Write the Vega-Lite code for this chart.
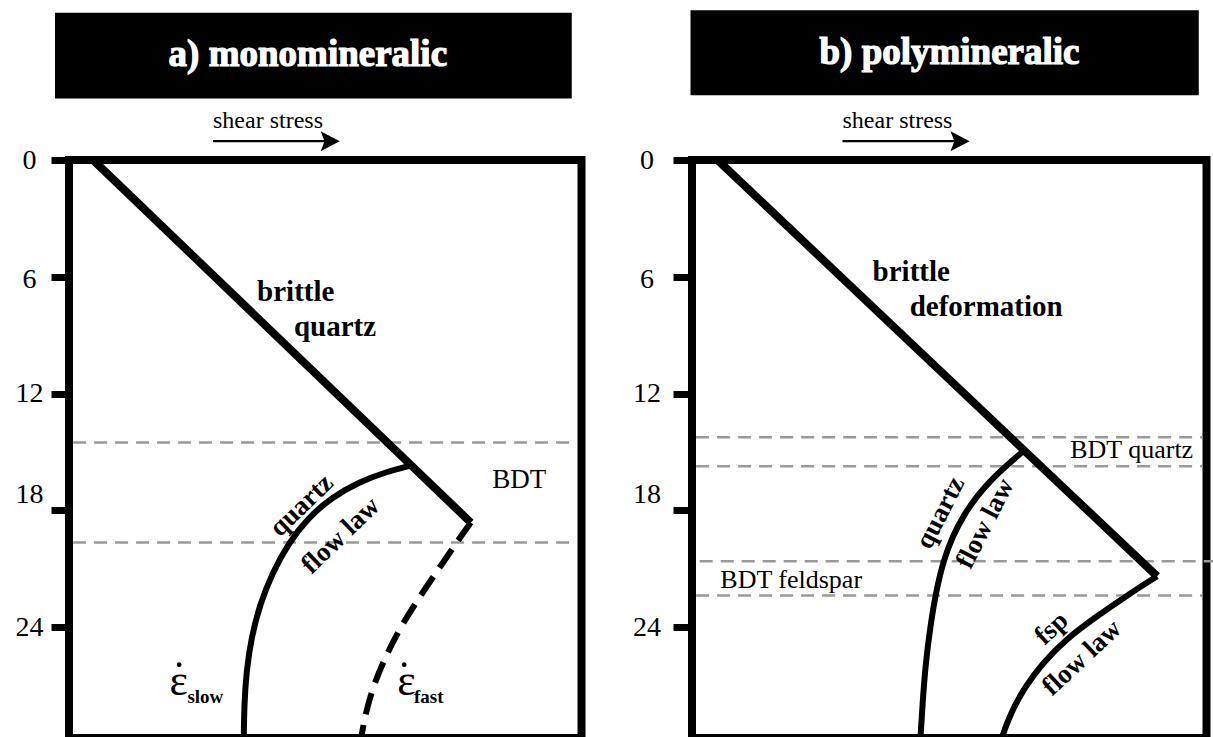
{
  "$schema": "https://vega.github.io/schema/vega-lite/v6.json",
  "background": "white",
  "padding": {"left": 11, "top": 6, "right": 0, "bottom": 0},
  "autosize": {"type": "pad"},
  "bounds": "flush",
  "spacing": 110,
  "config": {"view": {"stroke": "black", "strokeWidth": 8}},
  "datasets": {
    "pts": [
      {"p":"a","k":"box","x":-2.73,"x2":98.1,"d":-7.56,"d2":-3.16},
      {"p":"b","k":"box","x":-0.29,"x2":98.5,"d":-7.70,"d2":-3.33},
      {"p":"a","k":"title","x":46.6,"d":-4.82,"t":"a) monomineralic"},
      {"p":"b","k":"title","x":50.05,"d":-4.95,"t":"b) polymineralic"},
      {"p":"a","k":"shear","x":28.1,"d":-1.62,"t":"shear stress"},
      {"p":"b","k":"shear","x":29.25,"d":-1.62,"t":"shear stress"},
      {"p":"a","k":"arrow","x":28.1,"x2":50.2,"d":-0.966},
      {"p":"b","k":"arrow","x":29.25,"x2":51.3,"d":-0.966},
      {"p":"a","k":"head","x":50.97,"d":-0.966},
      {"p":"b","k":"head","x":52.1,"d":-0.966},
      {"p":"a","k":"bdt","x":0.8,"x2":99.2,"d":14.52},
      {"p":"a","k":"bdt","x":0.8,"x2":99.2,"d":19.66},
      {"p":"b","k":"bdt","x":0.8,"x2":99.2,"d":14.24},
      {"p":"b","k":"bdt","x":0.8,"x2":99.2,"d":15.73},
      {"p":"b","k":"bdt","x":1.5,"x2":102.2,"d":20.62},
      {"p":"b","k":"bdt","x":0.8,"x2":99.2,"d":22.38},
      {"p":"a","k":"curve","s":"brittle","o":1,"x":4.7,"d":0},
      {"p":"a","k":"curve","s":"brittle","o":2,"x":78.4,"d":18.63},
      {"p":"a","k":"curve","s":"slow","o":1,"x":66.4,"d":15.72},
      {"p":"a","k":"curve","s":"slow","o":2,"x":62.0,"d":16.02},
      {"p":"a","k":"curve","s":"slow","o":3,"x":56.5,"d":16.55},
      {"p":"a","k":"curve","s":"slow","o":4,"x":51.2,"d":17.35},
      {"p":"a","k":"curve","s":"slow","o":5,"x":46.6,"d":18.4},
      {"p":"a","k":"curve","s":"slow","o":6,"x":42.8,"d":19.7},
      {"p":"a","k":"curve","s":"slow","o":7,"x":39.7,"d":21.2},
      {"p":"a","k":"curve","s":"slow","o":8,"x":37.3,"d":22.8},
      {"p":"a","k":"curve","s":"slow","o":9,"x":35.6,"d":24.5},
      {"p":"a","k":"curve","s":"slow","o":10,"x":34.6,"d":26.3},
      {"p":"a","k":"curve","s":"slow","o":11,"x":34.2,"d":28.0},
      {"p":"a","k":"curve","s":"slow","o":12,"x":34.1,"d":29.7},
      {"p":"a","k":"curve","s":"fast","o":1,"x":78.4,"d":18.63},
      {"p":"a","k":"curve","s":"fast","o":2,"x":75.9,"d":19.55},
      {"p":"a","k":"curve","s":"fast","o":3,"x":72.3,"d":20.95},
      {"p":"a","k":"curve","s":"fast","o":4,"x":68.4,"d":22.45},
      {"p":"a","k":"curve","s":"fast","o":5,"x":64.8,"d":23.95},
      {"p":"a","k":"curve","s":"fast","o":6,"x":61.8,"d":25.5},
      {"p":"a","k":"curve","s":"fast","o":7,"x":59.4,"d":27.0},
      {"p":"a","k":"curve","s":"fast","o":8,"x":57.9,"d":28.4},
      {"p":"a","k":"curve","s":"fast","o":9,"x":57.0,"d":29.7},
      {"p":"b","k":"curve","s":"brittle","o":1,"x":4.96,"d":0},
      {"p":"b","k":"curve","s":"brittle","o":2,"x":90.4,"d":21.39},
      {"p":"b","k":"curve","s":"quartz","o":1,"x":64.24,"d":15.0},
      {"p":"b","k":"curve","s":"quartz","o":2,"x":61.32,"d":15.65},
      {"p":"b","k":"curve","s":"quartz","o":3,"x":58.21,"d":16.42},
      {"p":"b","k":"curve","s":"quartz","o":4,"x":55.3,"d":17.29},
      {"p":"b","k":"curve","s":"quartz","o":5,"x":52.77,"d":18.27},
      {"p":"b","k":"curve","s":"quartz","o":6,"x":50.63,"d":19.35},
      {"p":"b","k":"curve","s":"quartz","o":7,"x":48.88,"d":20.58},
      {"p":"b","k":"curve","s":"quartz","o":8,"x":47.52,"d":22.07},
      {"p":"b","k":"curve","s":"quartz","o":9,"x":46.36,"d":23.87},
      {"p":"b","k":"curve","s":"quartz","o":10,"x":45.38,"d":25.92},
      {"p":"b","k":"curve","s":"quartz","o":11,"x":44.8,"d":27.98},
      {"p":"b","k":"curve","s":"quartz","o":12,"x":44.41,"d":29.7},
      {"p":"b","k":"curve","s":"fsp","o":1,"x":90.4,"d":21.39},
      {"p":"b","k":"curve","s":"fsp","o":2,"x":84.8,"d":22.33},
      {"p":"b","k":"curve","s":"fsp","o":3,"x":78.2,"d":23.53},
      {"p":"b","k":"curve","s":"fsp","o":4,"x":72.8,"d":24.6},
      {"p":"b","k":"curve","s":"fsp","o":5,"x":68.3,"d":25.8},
      {"p":"b","k":"curve","s":"fsp","o":6,"x":64.6,"d":27.1},
      {"p":"b","k":"curve","s":"fsp","o":7,"x":61.9,"d":28.45},
      {"p":"b","k":"curve","s":"fsp","o":8,"x":60.2,"d":29.7},
      {"p":"a","k":"bold","x":36.7,"d":7.26,"t":"brittle"},
      {"p":"a","k":"bold","x":43.9,"d":9.05,"t":"quartz"},
      {"p":"b","k":"bold","x":35.1,"d":6.23,"t":"brittle"},
      {"p":"b","k":"bold","x":42.3,"d":8.03,"t":"deformation"},
      {"p":"a","k":"bdtlab","x":82.6,"d":16.84,"t":"BDT"},
      {"p":"b","k":"bdtlab","x":73.5,"d":15.3,"t":"BDT quartz"},
      {"p":"b","k":"bdtlab","x":5.5,"d":21.98,"t":"BDT feldspar"},
      {"p":"a","k":"rot1","x":45.4,"d":17.75,"t":"quartz"},
      {"p":"a","k":"rot1","x":53.0,"d":19.3,"t":"flow law"},
      {"p":"b","k":"rot1","x":69.9,"d":24.07,"t":"fsp"},
      {"p":"b","k":"rot1","x":75.8,"d":25.58,"t":"flow law"},
      {"p":"b","k":"rot2","x":48.3,"d":18.13,"t":"quartz"},
      {"p":"b","k":"rot2","x":57.0,"d":18.68,"t":"flow law"},
      {"p":"a","k":"eps","x":19.6,"d":27.47,"t":"ε"},
      {"p":"a","k":"eps","x":64.06,"d":27.47,"t":"ε"},
      {"p":"a","k":"sub","x":23.1,"d":27.88,"t":"slow"},
      {"p":"a","k":"sub","x":67.3,"d":27.89,"t":"fast"},
      {"p":"a","k":"dot","x":21.5,"d":25.93},
      {"p":"a","k":"dot","x":65.4,"d":25.93}
    ]
  },
  "hconcat": [
    {
      "width": 512.5,
      "height": 578,
      "data": {"name": "pts"},
      "transform": [{"filter": "datum.p === 'a'"}],
      "encoding": {
        "x": {"field": "x", "type": "quantitative", "scale": {"domain": [0, 100], "nice": false, "zero": false}, "axis": null},
        "y": {"field": "d", "type": "quantitative", "scale": {"domain": [0, 29.7], "reverse": true, "nice": false, "zero": false},
          "axis": {"values": [0, 6, 12, 18, 24], "title": null, "domain": false, "grid": false, "ticks": true, "tickSize": 18, "tickWidth": 7, "tickColor": "black",
            "labelFont": "Liberation Serif", "labelFontSize": 28, "labelColor": "black", "labelAlign": "center", "labelBaseline": "middle", "labelPadding": 22, "labelOverlap": false,
            "labelOffset": {"condition": [{"test": "datum.value === 18", "value": -16}, {"test": "datum.value === 6", "value": 3}], "value": 0}}}
      },
      "layer": [
        {"transform": [{"filter": "datum.k === 'box'"}], "mark": {"type": "rect", "color": "black"}, "encoding": {"x2": {"field": "x2"}, "y2": {"field": "d2"}}},
        {"transform": [{"filter": "datum.k === 'title'"}], "mark": {"type": "text", "font": "Liberation Serif", "fontWeight": "bold", "fontSize": 37, "color": "white", "stroke": "white", "strokeWidth": 1.2, "align": "center", "baseline": "alphabetic"}, "encoding": {"text": {"field": "t"}}},
        {"transform": [{"filter": "datum.k === 'shear'"}], "mark": {"type": "text", "font": "Liberation Serif", "fontSize": 24, "color": "black", "align": "left", "baseline": "alphabetic"}, "encoding": {"text": {"field": "t"}}},
        {"transform": [{"filter": "datum.k === 'arrow'"}], "mark": {"type": "rule", "color": "black", "strokeWidth": 2.3}, "encoding": {"x2": {"field": "x2"}}},
        {"transform": [{"filter": "datum.k === 'head'"}], "mark": {"type": "point", "shape": "M-1,-1.05L1,0L-1,1.05L-0.6,0Z", "size": 361, "filled": true, "color": "black", "opacity": 1, "strokeWidth": 0}},
        {"transform": [{"filter": "datum.k === 'bdt'"}], "mark": {"type": "rule", "color": "#999999", "strokeWidth": 2.5, "strokeDash": [13, 8]}, "encoding": {"x2": {"field": "x2"}}},
        {"transform": [{"filter": "datum.k === 'curve' && datum.s === 'brittle'"}], "mark": {"type": "line", "color": "black", "strokeWidth": 8}, "encoding": {"order": {"field": "o", "type": "quantitative"}}},
        {"transform": [{"filter": "datum.k === 'curve' && datum.s === 'slow'"}], "mark": {"type": "line", "color": "black", "strokeWidth": 6, "interpolate": "basis"}, "encoding": {"order": {"field": "o", "type": "quantitative"}}},
        {"transform": [{"filter": "datum.k === 'curve' && datum.s === 'fast'"}], "mark": {"type": "line", "color": "black", "strokeWidth": 6, "interpolate": "basis", "strokeDash": [22, 11]}, "encoding": {"order": {"field": "o", "type": "quantitative"}}},
        {"transform": [{"filter": "datum.k === 'bold'"}], "mark": {"type": "text", "font": "Liberation Serif", "fontWeight": "bold", "fontSize": 29, "color": "black", "align": "left", "baseline": "alphabetic"}, "encoding": {"text": {"field": "t"}}},
        {"transform": [{"filter": "datum.k === 'bdtlab'"}], "mark": {"type": "text", "font": "Liberation Serif", "fontSize": 27, "color": "black", "align": "left", "baseline": "alphabetic"}, "encoding": {"text": {"field": "t"}}},
        {"transform": [{"filter": "datum.k === 'rot1'"}], "mark": {"type": "text", "font": "Liberation Serif", "fontWeight": "bold", "fontSize": 27, "color": "black", "align": "center", "baseline": "middle", "angle": -44}, "encoding": {"text": {"field": "t"}}},
        {"transform": [{"filter": "datum.k === 'eps'"}], "mark": {"type": "text", "font": "Liberation Serif", "fontSize": 44, "color": "black", "align": "left", "baseline": "alphabetic"}, "encoding": {"text": {"field": "t"}}},
        {"transform": [{"filter": "datum.k === 'sub'"}], "mark": {"type": "text", "font": "Liberation Serif", "fontWeight": "bold", "fontSize": 19, "color": "black", "align": "left", "baseline": "alphabetic"}, "encoding": {"text": {"field": "t"}}},
        {"transform": [{"filter": "datum.k === 'dot'"}], "mark": {"type": "point", "shape": "circle", "size": 22, "filled": true, "color": "black", "opacity": 1}}
      ]
    },
    {
      "width": 514.5,
      "height": 578,
      "data": {"name": "pts"},
      "transform": [{"filter": "datum.p === 'b'"}],
      "encoding": {
        "x": {"field": "x", "type": "quantitative", "scale": {"domain": [0, 100], "nice": false, "zero": false}, "axis": null},
        "y": {"field": "d", "type": "quantitative", "scale": {"domain": [0, 29.7], "reverse": true, "nice": false, "zero": false},
          "axis": {"values": [0, 6, 12, 18, 24], "title": null, "domain": false, "grid": false, "ticks": true, "tickSize": 19, "tickWidth": 7, "tickColor": "black",
            "labelFont": "Liberation Serif", "labelFontSize": 28, "labelColor": "black", "labelAlign": "center", "labelBaseline": "middle", "labelPadding": 26.5, "labelOverlap": false,
            "labelOffset": {"condition": [{"test": "datum.value === 18", "value": -16}, {"test": "datum.value === 6", "value": 3}], "value": 0}}}
      },
      "layer": [
        {"transform": [{"filter": "datum.k === 'box'"}], "mark": {"type": "rect", "color": "black"}, "encoding": {"x2": {"field": "x2"}, "y2": {"field": "d2"}}},
        {"transform": [{"filter": "datum.k === 'title'"}], "mark": {"type": "text", "font": "Liberation Serif", "fontWeight": "bold", "fontSize": 37, "color": "white", "stroke": "white", "strokeWidth": 1.2, "align": "center", "baseline": "alphabetic"}, "encoding": {"text": {"field": "t"}}},
        {"transform": [{"filter": "datum.k === 'shear'"}], "mark": {"type": "text", "font": "Liberation Serif", "fontSize": 24, "color": "black", "align": "left", "baseline": "alphabetic"}, "encoding": {"text": {"field": "t"}}},
        {"transform": [{"filter": "datum.k === 'arrow'"}], "mark": {"type": "rule", "color": "black", "strokeWidth": 2.3}, "encoding": {"x2": {"field": "x2"}}},
        {"transform": [{"filter": "datum.k === 'head'"}], "mark": {"type": "point", "shape": "M-1,-1.05L1,0L-1,1.05L-0.6,0Z", "size": 361, "filled": true, "color": "black", "opacity": 1, "strokeWidth": 0}},
        {"transform": [{"filter": "datum.k === 'bdt'"}], "mark": {"type": "rule", "color": "#999999", "strokeWidth": 2.5, "strokeDash": [13, 8]}, "encoding": {"x2": {"field": "x2"}}},
        {"transform": [{"filter": "datum.k === 'curve' && datum.s === 'brittle'"}], "mark": {"type": "line", "color": "black", "strokeWidth": 8}, "encoding": {"order": {"field": "o", "type": "quantitative"}}},
        {"transform": [{"filter": "datum.k === 'curve' && datum.s !== 'brittle'"}], "mark": {"type": "line", "color": "black", "strokeWidth": 6, "interpolate": "basis"}, "encoding": {"detail": {"field": "s"}, "order": {"field": "o", "type": "quantitative"}}},
        {"transform": [{"filter": "datum.k === 'bold'"}], "mark": {"type": "text", "font": "Liberation Serif", "fontWeight": "bold", "fontSize": 29, "color": "black", "align": "left", "baseline": "alphabetic"}, "encoding": {"text": {"field": "t"}}},
        {"transform": [{"filter": "datum.k === 'bdtlab'"}], "mark": {"type": "text", "font": "Liberation Serif", "fontSize": 26, "color": "black", "align": "left", "baseline": "alphabetic"}, "encoding": {"text": {"field": "t"}}},
        {"transform": [{"filter": "datum.k === 'rot1'"}], "mark": {"type": "text", "font": "Liberation Serif", "fontWeight": "bold", "fontSize": 27, "color": "black", "align": "center", "baseline": "middle", "angle": -43}, "encoding": {"text": {"field": "t"}}},
        {"transform": [{"filter": "datum.k === 'rot2'"}], "mark": {"type": "text", "font": "Liberation Serif", "fontWeight": "bold", "fontSize": 27, "color": "black", "align": "center", "baseline": "middle", "angle": -63}, "encoding": {"text": {"field": "t"}}}
      ]
    }
  ]
}
